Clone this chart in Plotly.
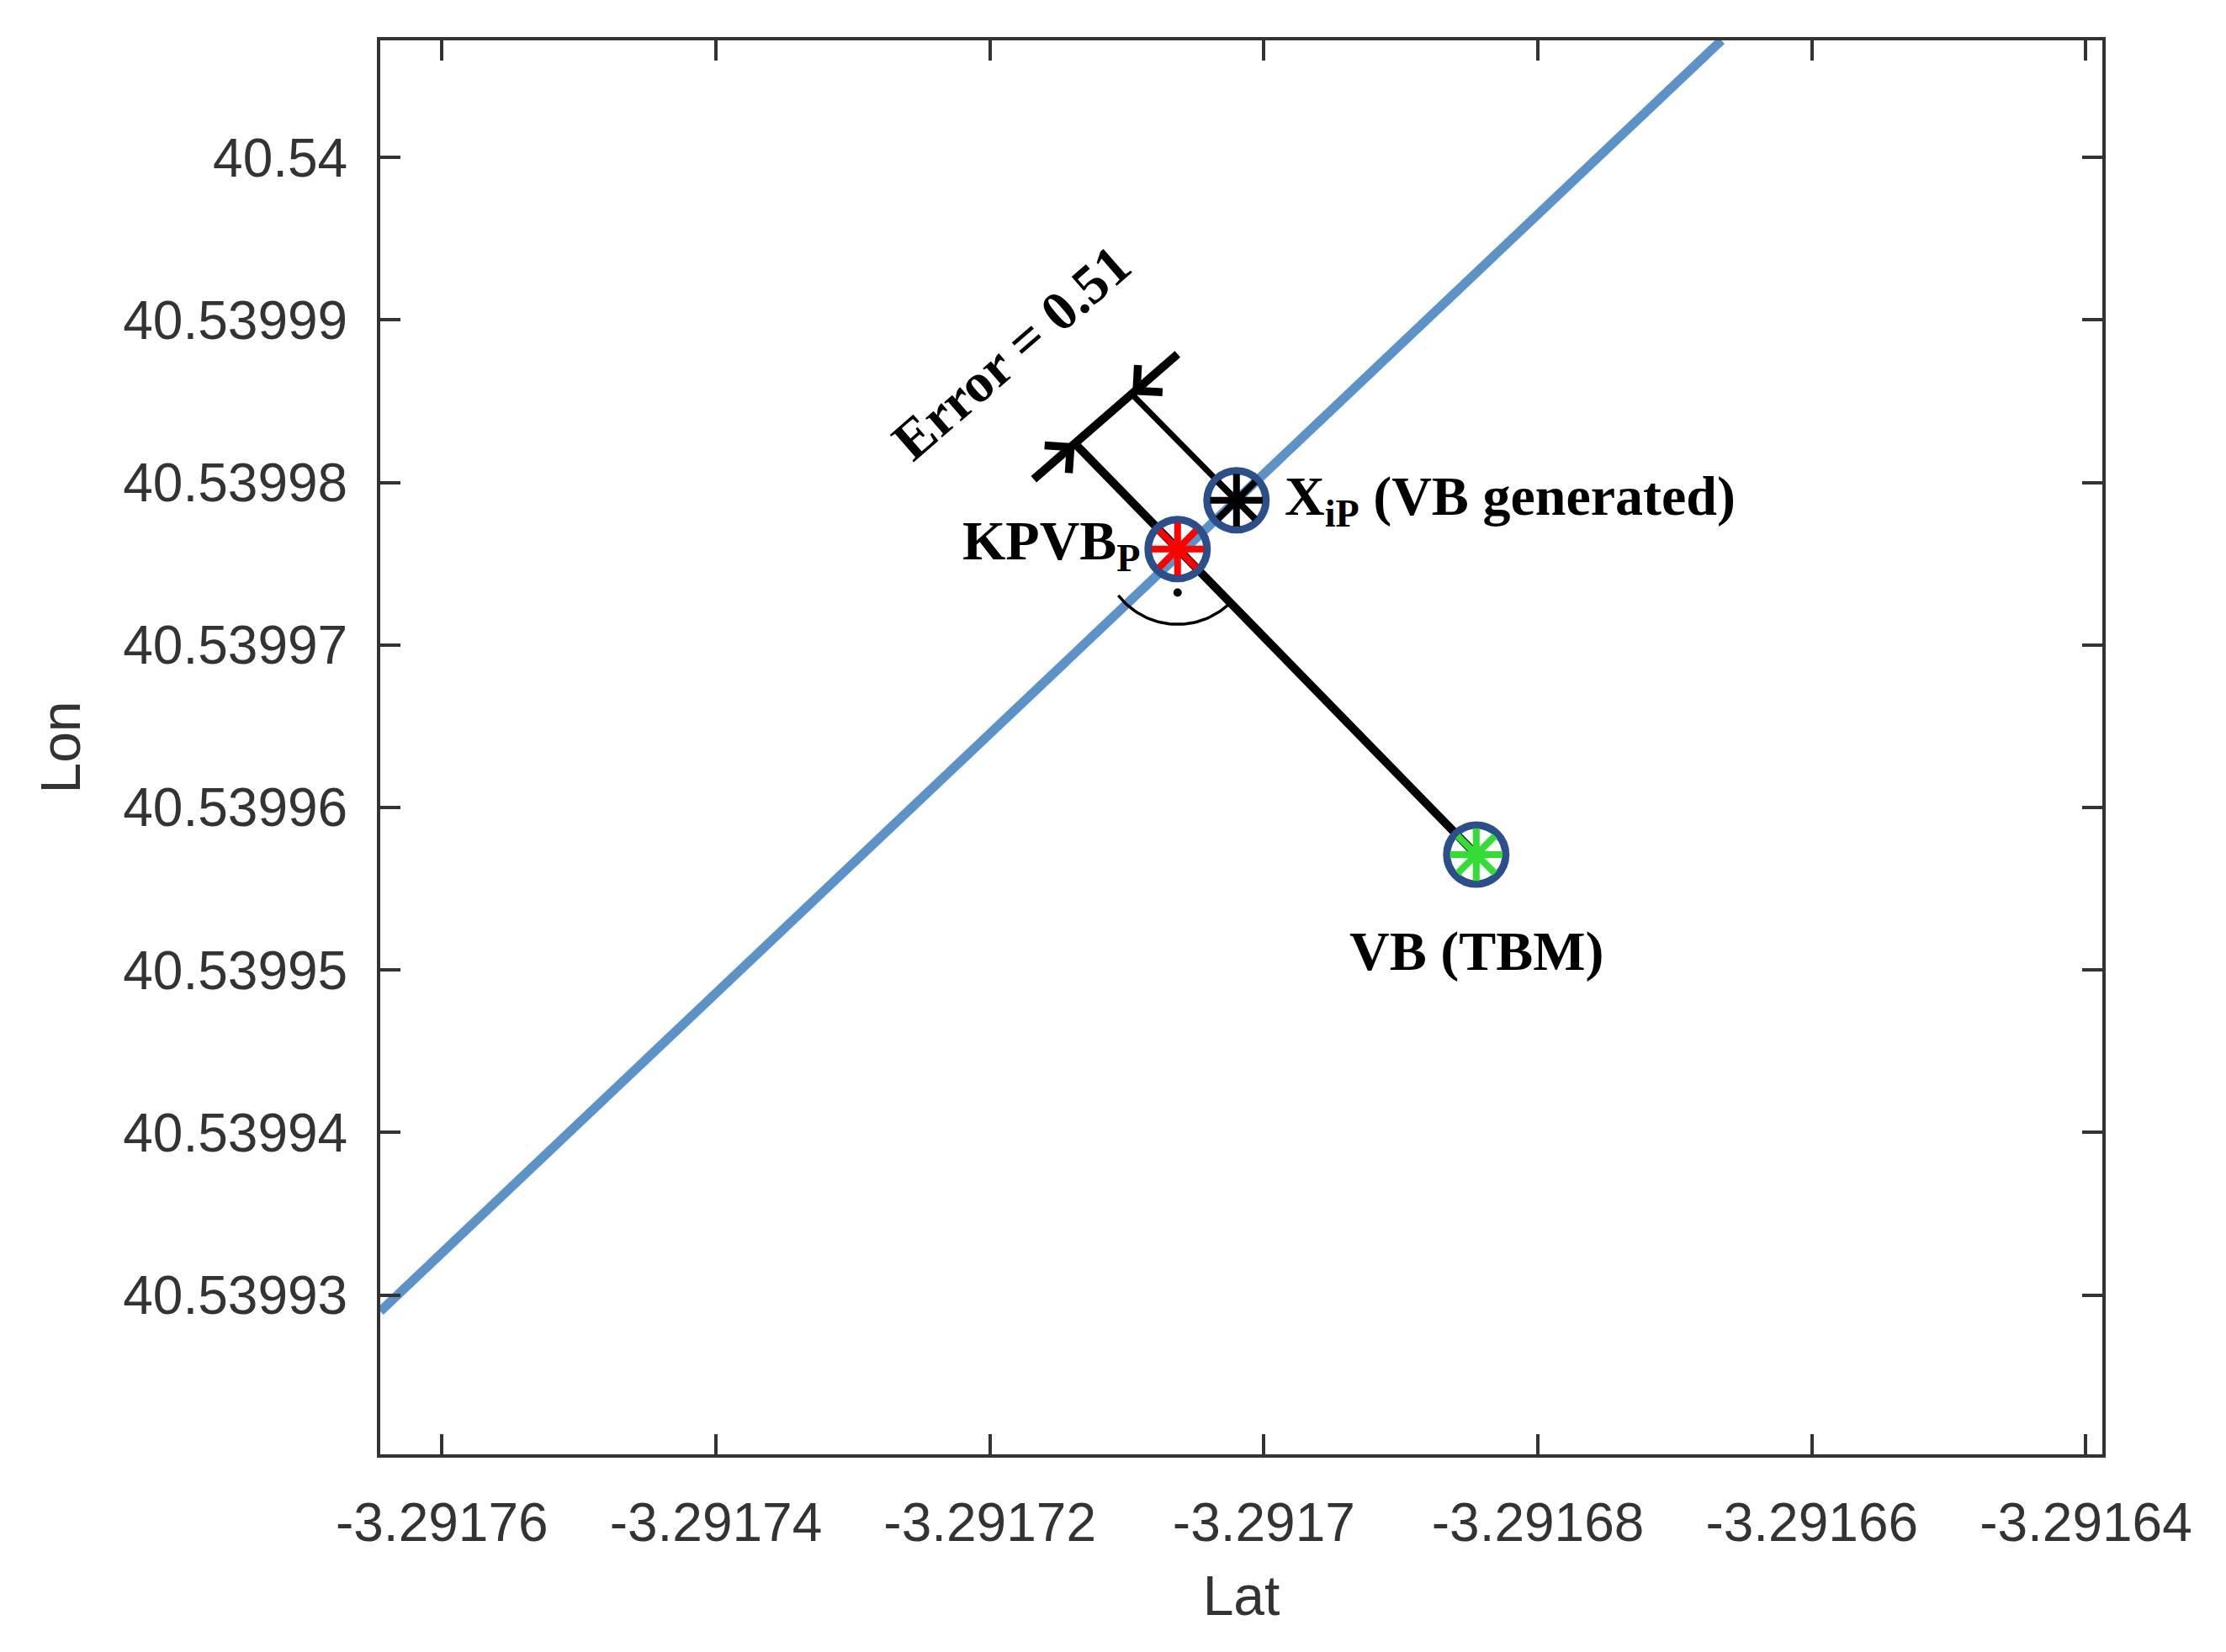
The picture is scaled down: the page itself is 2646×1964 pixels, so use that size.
import numpy as np
import plotly.graph_objects as go

# values
line_lat = [-3.2917645, -3.2916666]
line_lon = [40.539929, 40.5400072]
xip = (-3.291702, 40.5399789)
kpvb = (-3.2917063, 40.5399759)
vb = (-3.2916845, 40.5399571)
foot_k = (-3.2917138, 40.5399824)
foot_x = (-3.2917096, 40.5399854)
arrow_a = (-3.2917168, 40.5399802)
arrow_b = (-3.2917063, 40.5399879)
xticks = [-3.29176, -3.29174, -3.29172, -3.2917, -3.29168, -3.29166, -3.29164]
yticks = [40.53993, 40.53994, 40.53995, 40.53996, 40.53997, 40.53998, 40.53999, 40.54]
ytick_text = ["40.53993", "40.53994", "40.53995", "40.53996", "40.53997", "40.53998", "40.53999", "40.54"]

# pixel-per-unit scale for the little right-angle arc
sx, sy = 9.667e6 * 1.696, 11.46e6 * 1.696
r = 90
ang = np.linspace(np.deg2rad(-142), np.deg2rad(-48), 40)
arc_x = kpvb[0] + r * np.cos(ang) / sx
arc_y = kpvb[1] + r * np.sin(ang) / sy

fig = go.Figure()
fig.add_trace(go.Scatter(x=line_lat, y=line_lon, mode="lines",
                         line=dict(color="#5b93c9", width=11)))
blk = dict(color="black", width=10)
fig.add_trace(go.Scatter(x=[vb[0], foot_k[0]], y=[vb[1], foot_k[1]], mode="lines", line=blk))
fig.add_trace(go.Scatter(x=[xip[0], foot_x[0]], y=[xip[1], foot_x[1]], mode="lines", line=dict(color="black", width=7)))
fig.add_trace(go.Scatter(x=[arrow_a[0], arrow_b[0]], y=[arrow_a[1], arrow_b[1]], mode="lines", line=blk))
fig.add_trace(go.Scatter(x=arc_x, y=arc_y, mode="lines", line=dict(color="black", width=3.5)))
fig.add_trace(go.Scatter(x=[kpvb[0]], y=[kpvb[1] - 52 / sy], mode="markers",
                         marker=dict(color="black", size=10)))
for (px, py), c in [(xip, "black"), (kpvb, "red"), (vb, "#33dd33")]:
    fig.add_trace(go.Scatter(x=[px], y=[py], mode="markers",
                             marker=dict(symbol="circle-open", size=70, color="#2b4f8a", line=dict(width=9))))
    fig.add_trace(go.Scatter(x=[px], y=[py], mode="markers",
                             marker=dict(symbol="asterisk-open", size=52, color=c, line=dict(width=8, color=c))))

for (tx, ty), (hx, hy) in [(arrow_a, foot_k), (arrow_b, foot_x)]:
    fig.add_annotation(x=hx, y=hy, ax=tx, ay=ty, xref="x", yref="y", axref="x", ayref="y",
                       text="", showarrow=True, arrowhead=4, arrowsize=1.2, arrowwidth=7, arrowcolor="black")

sfont = dict(family="Liberation Serif", size=66, color="black")
fig.add_annotation(x=xip[0], y=xip[1], text="<b>X<sub>iP</sub> (VB generated)</b>", showarrow=False,
                   xanchor="left", xshift=55, font=sfont)
fig.add_annotation(x=kpvb[0], y=kpvb[1], text="<b>KPVB<sub>P</sub></b>", showarrow=False,
                   xanchor="right", xshift=-42, yshift=5, font=sfont)
fig.add_annotation(x=vb[0], y=vb[1], text="<b>VB (TBM)</b>", showarrow=False,
                   yshift=-115, font=sfont)
fig.add_annotation(x=-3.2917184, y=40.539988, text="<b>Error = 0.51</b>", showarrow=False,
                   textangle=-41, font=sfont)

axis = dict(showgrid=False, zeroline=False, showline=True, linecolor="#333", linewidth=4, mirror="ticks",
            ticks="inside", ticklen=24, tickwidth=4, tickcolor="#333", ticklabelstandoff=22,
            tickfont=dict(family="Liberation Sans", size=64, color="#333"),
            title_font=dict(family="Liberation Sans", size=66, color="#333"))
fig.update_xaxes(axis, range=[-3.2917645, -3.2916388], tickvals=xticks,
                 ticktext=[f"{v:g}" for v in xticks], title_text="Lat", title_standoff=30)
fig.update_yaxes(axis, range=[40.5399202, 40.5400072], tickvals=yticks, ticktext=ytick_text,
                 title_text="Lon", title_standoff=30)
fig.update_layout(width=2646, height=1964, showlegend=False, plot_bgcolor="white", paper_bgcolor="white",
                  margin=dict(l=444, r=155, t=40, b=243))
fig.write_html("out.html")
